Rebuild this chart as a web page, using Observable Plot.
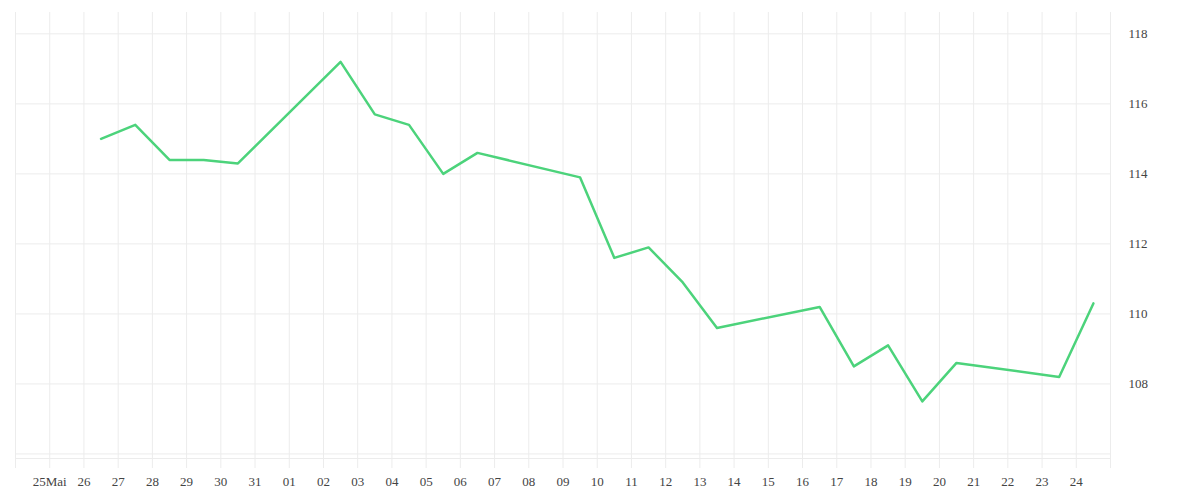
<!DOCTYPE html>
<html>
<head>
<meta charset="utf-8">
<script src="https://cdn.jsdelivr.net/npm/d3@7"></script>
<script src="https://cdn.jsdelivr.net/npm/@observablehq/plot@0.6"></script>
<style>
  html, body { margin: 0; padding: 0; background: #fff; }
  #chart svg { display: block; }
</style>
</head>
<body>
<div id="chart"></div>
<script>
// Data
const dates = [
  "2025-05-26","2025-05-27","2025-05-28","2025-05-29","2025-05-30",
  "2025-06-02","2025-06-03","2025-06-04","2025-06-05","2025-06-06",
  "2025-06-09","2025-06-10","2025-06-11","2025-06-12","2025-06-13",
  "2025-06-16","2025-06-17","2025-06-18","2025-06-19","2025-06-20",
  "2025-06-23","2025-06-24"
];
const values = [
  115.0, 115.4, 114.4, 114.4, 114.3,
  117.2, 115.7, 115.4, 114.0, 114.6,
  113.9, 111.6, 111.9, 110.9, 109.6,
  110.2, 108.5, 109.1, 107.5, 108.6,
  108.2, 110.3
];
// x tick days and labels (first and last ticks unlabeled)
const tickDays = [
  "2025-05-24","2025-05-25","2025-05-26","2025-05-27","2025-05-28","2025-05-29","2025-05-30","2025-05-31",
  "2025-06-01","2025-06-02","2025-06-03","2025-06-04","2025-06-05","2025-06-06","2025-06-07","2025-06-08",
  "2025-06-09","2025-06-10","2025-06-11","2025-06-12","2025-06-13","2025-06-14","2025-06-15","2025-06-16",
  "2025-06-17","2025-06-18","2025-06-19","2025-06-20","2025-06-21","2025-06-22","2025-06-23","2025-06-24",
  "2025-06-25"
];
const tickLabels = [
  "","25Mai","26","27","28","29","30","31",
  "01","02","03","04","05","06","07","08",
  "09","10","11","12","13","14","15","16",
  "17","18","19","20","21","22","23","24",
  ""
];
const yGrid = [106, 108, 110, 112, 114, 116, 118];
const yLabels = [108, 110, 112, 114, 116, 118];
const yDomain = [105.87, 118.61];

const HALF_DAY = 12 * 3600 * 1000;
const data = dates.map((d, i) => ({date: new Date(new Date(d + "T00:00:00Z").getTime() + HALF_DAY), value: values[i]}));
const ticks = tickDays.map(d => new Date(d + "T00:00:00Z"));
const labelOf = new Map(ticks.map((t, i) => [t.getTime(), tickLabels[i]]));

const gridColor = "#ececec";
const textColor = "#444";

const chart = Plot.plot({
  width: 1200,
  height: 500,
  marginLeft: 15,
  marginRight: 90,
  marginTop: 12,
  marginBottom: 42,
  style: {fontFamily: "serif", fontSize: "13px", background: "#fff"},
  x: {type: "utc", domain: [ticks[0], ticks[ticks.length - 1]], label: null},
  y: {domain: yDomain, label: null},
  marks: [
    Plot.gridY(yGrid, {stroke: gridColor, strokeOpacity: 1}),
    Plot.ruleY([yDomain[0]], {stroke: gridColor}),
    Plot.gridX(ticks, {stroke: gridColor, strokeOpacity: 1}),
    Plot.axisX(ticks, {
      tickSize: 10, tickPadding: 8, stroke: gridColor, fill: textColor, label: null,
      tickFormat: d => labelOf.get(d.getTime()) ?? ""
    }),
    Plot.axisY(yLabels, {anchor: "right", tickSize: 0, tickPadding: 18, fill: textColor, label: null, tickFormat: d => String(d)}),
    Plot.line(data, {x: "date", y: "value", stroke: "#4cd37b", strokeWidth: 2.5})
  ]
});
document.getElementById("chart").appendChild(chart);
</script>
</body>
</html>
